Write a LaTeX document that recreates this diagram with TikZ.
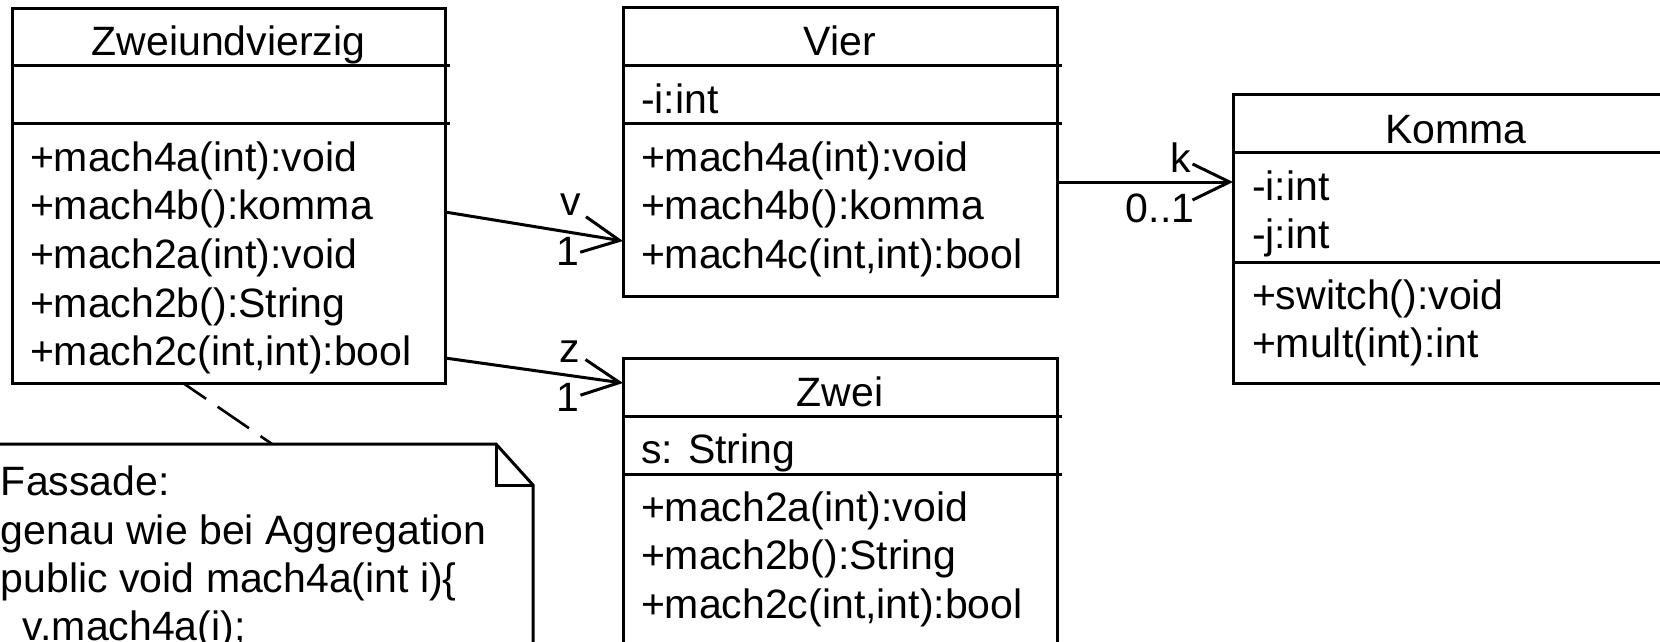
\documentclass[tikz,border=0pt]{standalone}
\usepackage{fontspec}
\setmainfont{Liberation Sans}
\usetikzlibrary{arrows.meta,fit}
\newcommand\umlfont{\fontsize{20.5pt}{24.35pt}\selectfont}
\tikzset{
  classbox/.style={draw, line width=1.5pt, inner sep=0pt, outer sep=0pt},
  compline/.style={line width=1.5pt},
  umltext/.style={font=\umlfont, inner sep=0pt, outer sep=0pt},
  txt/.style={umltext, anchor=base west},
  ttl/.style={umltext, anchor=base},
  assoc/.style={line width=1.5pt, -{Straight Barb[length=18.5pt,width=18pt]}},
  notelink/.style={line width=1.3pt, dash pattern=on 19pt off 7pt, dash phase=5pt},
}
\begin{document}
\begin{tikzpicture}[x=0.5pt, y=-0.5pt]
\useasboundingbox (0,0) rectangle (1660,642);
\fill[white] (0,0) rectangle (1660,642);
\clip (0,0) rectangle (1660,642);

% Zweiundvierzig
\node[classbox, fit={(12,9) (445,383)}] (zw) {};
\draw[compline] (12,66) -- (450,66) (12,124) -- (450,124);
\node[ttl] (zwt) at (228.5,56) {Zweiundvierzig};
\node[txt] (zwm1) at (30,171) {+mach4a(int):void};
\node[txt] (zwm2) at (30,219.7) {+mach4b():komma};
\node[txt] (zwm3) at (30,268.4) {+mach2a(int):void};
\node[txt] (zwm4) at (30,317.1) {+mach2b():String};
\node[txt] (zwm5) at (30,365.8) {+mach2c(int,int):bool};

% Vier
\node[classbox, fit={(623,8) (1057,296)}] (vier) {};
\draw[compline] (623,66) -- (1062,66) (623,124) -- (1062,124);
\node[ttl] (viert) at (840,56) {Vier};
\node[txt] (viera1) at (641,113) {-i:int};
\node[txt] (vierm1) at (641,171) {+mach4a(int):void};
\node[txt] (vierm2) at (641,219.7) {+mach4b():komma};
\node[txt] (vierm3) at (641,268.4) {+mach4c(int,int):bool};

% Komma
\node[classbox, fit={(1233,95) (1679,383)}] (komma) {};
\draw[compline] (1233,153) -- (1684,153) (1233,262) -- (1684,262);
\node[ttl] (kommat) at (1456,143) {Komma};
\node[txt] (kommaa1) at (1252,200) {-i:int};
\node[txt] (kommaa2) at (1252,248.7) {-j:int};
\node[txt] (kommam1) at (1252,309) {+switch():void};
\node[txt] (kommam2) at (1252,357.7) {+mult(int):int};

% Zwei
\node[classbox, fit={(623,358) (1057,700)}] (zwei) {};
\draw[compline] (623,416) -- (1062,416) (623,474) -- (1062,474);
\node[ttl] (zweit) at (840,406) {Zwei};
\node[txt] (zweia1) at (641,463) {s: String};
\node[txt] (zweim1) at (641,521) {+mach2a(int):void};
\node[txt] (zweim2) at (641,569.7) {+mach2b():String};
\node[txt] (zweim3) at (641,618.4) {+mach2c(int,int):bool};

% Note
\node[inner sep=0pt, outer sep=0pt, fit={(-10,444) (533,700)}] (note) {};
\draw[line width=1.5pt] (note.north west) -- (note.north -| 496,0) -- (note.east |- 0,485) -- (note.south east);
\draw[line width=1.5pt] (note.north -| 496,0) -- (496,485) -- (note.east |- 0,485);
\node[txt] (n1) at (1,495) {Fassade:};
\node[txt] (n2) at (1,544) {genau wie bei Aggregation};
\node[txt] (n3) at (1,592) {public void mach4a(int i)\{};
\node[txt] (n4) at (23,640) {v.mach4a(i);};

% Connectors
\draw[assoc] (zw.east |- 0,212) -- (vier.west |- 0,241);
\draw[assoc] (zw.east |- 0,358) -- (zwei.west |- 0,383);
\draw[assoc] (vier.east |- 0,182) -- (komma.west |- 0,182);
\draw[notelink] (zw.south -| 183,0) -- (note.north -| 272,0);

% Labels
\node[ttl] (lv) at (571,215) {v};
\node[ttl] (lv1) at (567.5,265) {1};
\node[ttl] (lz) at (570,362) {z};
\node[ttl] (lz1) at (567.5,411) {1};
\node[ttl] (lk) at (1181,172) {k};
\node[ttl] (lk1) at (1160,222) {0..1};
\end{tikzpicture}
\end{document}
